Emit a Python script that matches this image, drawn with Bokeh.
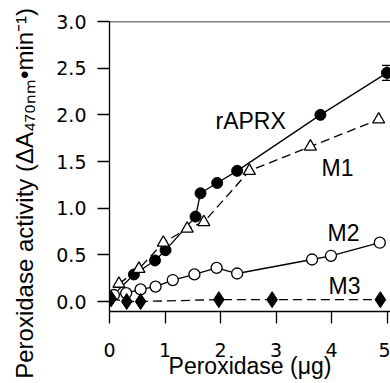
from bokeh.plotting import figure
from bokeh.models import (Label, Span, FixedTicker, NumeralTickFormatter, Whisker,
                          TeeHead, ColumnDataSource)
from bokeh.embed import file_html
from bokeh.resources import INLINE

# ---- data ----
raprx_x = [0.05, 0.44, 0.82, 1.01, 1.55, 1.64, 1.94, 2.30, 3.80, 5.00]
raprx_y = [0.06, 0.29, 0.44, 0.55, 0.91, 1.16, 1.27, 1.40, 2.00, 2.45]
raprx_err = [0, 0, 0, 0, 0, 0, 0, 0, 0, 0.08]

m1_x = [0.17, 0.53, 0.97, 1.40, 1.70, 2.52, 3.62, 4.85]
m1_y = [0.19, 0.35, 0.63, 0.78, 0.85, 1.40, 1.66, 1.95]

m2_x = [0.08, 0.30, 0.56, 0.83, 1.14, 1.53, 1.93, 2.30, 3.65, 3.99, 4.87]
m2_y = [0.07, 0.09, 0.13, 0.16, 0.23, 0.29, 0.36, 0.30, 0.45, 0.49, 0.63]

m3_x = [0.03, 0.31, 0.56, 1.97, 2.93, 4.88]
m3_y = [0.03, 0.00, 0.00, 0.02, 0.02, 0.02]

x_ticks = [0, 1, 2, 3, 4, 5]
y_ticks = [0.0, 0.5, 1.0, 1.5, 2.0, 2.5, 3.0]

series_labels = ["rAPRX", "M1", "M2", "M3"]
x_title = "Peroxidase (\u03bcg)"
y_title = "Peroxidase activity (\u0394A\u2084\u2087\u2080\u2099\u2098\u2022min\u207b\u00b9)"

FONT = "Liberation Sans"
TICKFONT = "DejaVu Sans"

p = figure(width=390, height=383, x_range=(0, 5.063), y_range=(-0.107, 3.0),
           output_backend="svg", toolbar_location=None,
           min_border_left=109, min_border_right=0, min_border_top=21, min_border_bottom=72)
p.outline_line_color = None
p.grid.grid_line_color = None
p.background_fill_color = "white"
p.border_fill_color = "white"

for ax in (p.xaxis[0], p.yaxis[0]):
    ax.axis_line_width = 1.3
    ax.major_tick_line_width = 1.3
    ax.major_tick_out = 12
    ax.major_tick_in = 0
    ax.minor_tick_line_color = None
    ax.major_label_text_font = TICKFONT
    ax.major_label_text_font_size = "19px"
    ax.major_label_text_color = "black"
    ax.axis_line_color = "black"
    ax.major_tick_line_color = "black"

p.xaxis.ticker = FixedTicker(ticks=x_ticks)
p.yaxis.ticker = FixedTicker(ticks=y_ticks)
p.yaxis.formatter = NumeralTickFormatter(format="0.0")
p.xaxis.major_label_standoff = 19
p.yaxis.major_label_standoff = 11

p.xaxis.axis_label = x_title
p.xaxis.axis_label_text_font = FONT
p.xaxis.axis_label_text_font_size = "23px"
p.xaxis.axis_label_text_font_style = "normal"
p.xaxis.axis_label_text_color = "black"
p.xaxis.axis_label_standoff = -7

# top frame line
p.add_layout(Span(location=3.0, dimension="width", line_color="black", line_width=1.3))

# rAPRX
p.line(raprx_x, raprx_y, line_color="black", line_width=1.3)
src = ColumnDataSource(dict(x=raprx_x, up=[a + b for a, b in zip(raprx_y, raprx_err)],
                            lo=[a - b for a, b in zip(raprx_y, raprx_err)]))
p.add_layout(Whisker(source=src, base="x", upper="up", lower="lo", dimension="height",
                     line_color="black", line_width=1.2,
                     upper_head=TeeHead(size=10, line_color="black", line_width=1.2),
                     lower_head=TeeHead(size=10, line_color="black", line_width=1.2)))
p.scatter(raprx_x, raprx_y, marker="circle", size=11, fill_color="black", line_color="black")

# M1
p.line(m1_x, m1_y, line_color="black", line_width=1.3, line_dash="9 5")
p.scatter(m1_x, m1_y, marker="triangle", size=12, fill_color="white", line_color="black", line_width=1.3)

# M2
p.line(m2_x, m2_y, line_color="black", line_width=1.3)
p.scatter(m2_x, m2_y, marker="circle", size=11, fill_color="white", line_color="black", line_width=1.3)

# M3
p.line(m3_x, m3_y, line_color="black", line_width=1.3, line_dash="9 5")
p.scatter(m3_x, m3_y, marker="diamond", size=16, fill_color="black", line_color="black")

# page pixel -> data helpers (layout only)
def dx(px):
    return (px - 109) / 55.5

def dy(py):
    return (301 - py) / 93.0

# series labels
lab_pos = [(215, 121), (321, 168), (327, 233), (328, 286)]
for t, (lx, ly) in zip(series_labels, lab_pos):
    p.add_layout(Label(x=dx(lx), y=dy(ly), text=t, text_font=FONT, text_font_size="23px",
                       text_align="left", text_baseline="alphabetic", text_color="black"))

# y axis title (rotated, in the left panel so it is not clipped)
p.add_layout(Label(x=-2, x_units="screen", y=dy(378), text=y_title, text_font=FONT,
                   text_font_size="24px", angle=90, angle_units="deg", text_align="left",
                   text_baseline="alphabetic", text_color="black"), "left")

open("out.html", "w").write(file_html(p, INLINE))
